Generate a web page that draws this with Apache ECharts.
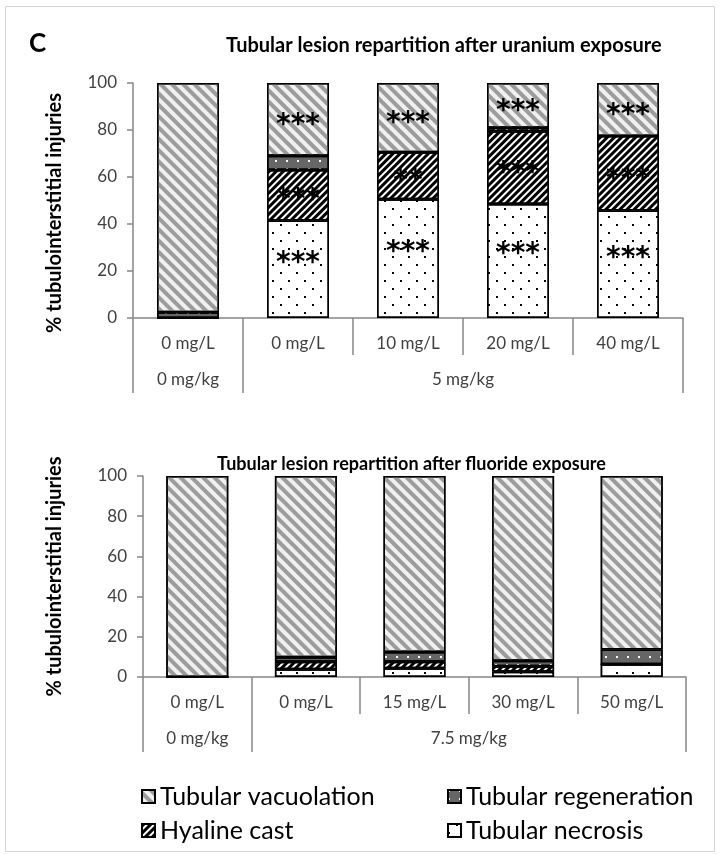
<!DOCTYPE html>
<html>
<head>
<meta charset="utf-8">
<title>Tubular lesion repartition</title>
<script src="https://cdn.jsdelivr.net/npm/echarts@6/dist/echarts.min.js"></script>
<style>
html,body{margin:0;padding:0;background:#fff;}
#main{width:721px;height:855px;}
</style>
</head>
<body>
<div id="main"></div>
<script>
/**
 * tubular lesion repartition, uranium / fluoride exposure
 */
// uranium panel (values in %)
var uraniumDoses = ['0 mg/L', '0 mg/L', '10 mg/L', '20 mg/L', '40 mg/L'];
var uraniumGroups = ['0 mg/kg', '5 mg/kg'];
var uraniumGroupSize = [1, 4];
var uNecrosis = [0, 41.5, 50.5, 48.5, 45.7];
var uHyaline = [0, 21.5, 20, 31, 31.7];
var uRegen = [2.5, 6, 0, 1.5, 0];
var uVacuol = [97.5, 31, 29.5, 19, 22.6];
var uSigNecrosis = ['', '***', '***', '***', '***'];
var uSigHyaline = ['', '***', '**', '***', '***'];
var uSigVacuol = ['', '***', '***', '***', '***'];

// fluoride panel (values in %)
var fluorideDoses = ['0 mg/L', '0 mg/L', '15 mg/L', '30 mg/L', '50 mg/L'];
var fluorideGroups = ['0 mg/kg', '7.5 mg/kg'];
var fluorideGroupSize = [1, 4];
var fNecrosis = [0, 3.8, 4.3, 2.6, 6.3];
var fHyaline = [0, 3.8, 3.3, 2.8, 0];
var fRegen = [0, 2.2, 4.9, 2.7, 7.4];
var fVacuol = [100, 90.2, 87.5, 91.9, 86.3];

var yTicks = [0, 20, 40, 60, 80, 100];

var FONT = 'Lato';
var AXIS_GREY = '#868686';

var styles = {
	vacuol: {
		color: '#f0f0f0', borderColor: '#000', borderWidth: 1.5,
		decal: {symbol: 'rect', symbolSize: 1, dashArrayX: [1, 0], dashArrayY: [4, 4], rotation: Math.PI / 4, color: '#9c9c9c'}
	},
	regen: {
		color: '#666666', borderColor: '#000', borderWidth: 1.5,
		decal: {symbol: 'rect', symbolSize: 1, dashArrayX: [2, 9], dashArrayY: [2, 6], rotation: 0, color: '#ffffff'}
	},
	hyaline: {
		color: '#ffffff', borderColor: '#000', borderWidth: 1.5,
		decal: {symbol: 'rect', symbolSize: 1, dashArrayX: [1, 0], dashArrayY: [2.5, 1.5], rotation: -Math.PI / 4, color: '#000000'}
	},
	necrosis: {
		color: '#ffffff', borderColor: '#000', borderWidth: 1.5,
		decal: {symbol: 'rect', symbolSize: 1, dashArrayX: [[2, 14], [0, 8, 2, 6]], dashArrayY: [2, 6], rotation: 0, color: '#000000'}
	}
};

function groupTicks(sizes){
	var out = [0], s = 0;
	for(var i=0;i<sizes.length;i++){ s += sizes[i]; out.push(s); }
	return out;
}
function groupCenters(sizes){
	var out = [], s = 0;
	for(var i=0;i<sizes.length;i++){ out.push(s + sizes[i] / 2); s += sizes[i]; }
	return out;
}

function sigLabel(arr, dy){
	return {
		show: true,
		position: 'inside',
		offset: [0, dy],
		formatter: function(p){ return arr[p.dataIndex]; },
		fontSize: 28,
		fontWeight: 'bold',
		fontFamily: 'DejaVu Sans',
		color: '#000'
	};
}

function catAxis(grid, data){
	return {
		gridIndex: grid, type: 'category', data: data, position: 'bottom',
		axisLine: {lineStyle: {color: AXIS_GREY, width: 1.5}},
		axisTick: {show: true, interval: 0, length: 37, lineStyle: {color: AXIS_GREY, width: 1.5}},
		axisLabel: {interval: 0, fontSize: 17, color: '#404040', margin: 17, fontFamily: FONT}
	};
}
function groupAxis(grid, groups, sizes){
	var centers = groupCenters(sizes);
	return {
		gridIndex: grid, type: 'value', position: 'bottom', offset: 37,
		min: 0, max: groupTicks(sizes)[sizes.length],
		axisLine: {show: false},
		splitLine: {show: false},
		axisTick: {show: true, length: 38, customValues: groupTicks(sizes), lineStyle: {color: AXIS_GREY, width: 1.5}},
		axisLabel: {
			customValues: centers, fontSize: 17, color: '#404040', margin: 16, fontFamily: FONT,
			formatter: function(v){
				for(var i=0;i<centers.length;i++){ if(Math.abs(centers[i]-v) < 1e-6) return groups[i]; }
				return '';
			}
		}
	};
}
function valAxis(grid, gap, pad){
	return {
		gridIndex: grid, type: 'value', min: yTicks[0], max: yTicks[yTicks.length-1], interval: yTicks[1]-yTicks[0],
		name: '% tubulointerstitial injuries', nameLocation: 'middle', nameGap: gap,
		nameTextStyle: {fontSize: 20, fontWeight: 'bold', color: '#000', fontFamily: FONT, padding: pad},
		axisLine: {show: true, lineStyle: {color: AXIS_GREY, width: 1.5}},
		axisTick: {show: true, length: 6, lineStyle: {color: AXIS_GREY, width: 1.5}},
		splitLine: {show: false},
		axisLabel: {fontSize: 17, color: '#404040', margin: 16, fontFamily: FONT}
	};
}

function bar(name, grid, stack, data, style, label){
	var s = {
		name: name, type: 'bar', xAxisIndex: grid * 2, yAxisIndex: grid, stack: stack,
		barWidth: 62, data: data, itemStyle: style,
		emphasis: {disabled: true}
	};
	if(label) s.label = label;
	return s;
}

var myChart = echarts.init(document.getElementById('main'));
var option = {
	animation: false,
	backgroundColor: '#fff',
	graphic: [{
		type: 'rect', silent: true,
		shape: {x: 5.5, y: 6.5, width: 709, height: 845},
		style: {fill: 'none', stroke: '#d4d4d4', lineWidth: 1}
	}],
	title: [
		{text: 'C', left: 24, top: 26, textStyle: {fontSize: 26, fontWeight: 'bold', color: '#000', fontFamily: FONT}},
		{text: 'Tubular lesion repartition after uranium exposure', left: 221, top: 31,
			textStyle: {fontSize: 20, fontWeight: 'bold', color: '#000', fontFamily: FONT}},
		{text: 'Tubular lesion repartition after fluoride exposure', left: 212, top: 450,
			textStyle: {fontSize: 18, fontWeight: 'bold', color: '#000', fontFamily: FONT}}
	],
	legend: [{
		data: ['Tubular vacuolation', 'Hyaline cast'],
		orient: 'vertical', left: 136, top: 779, icon: 'rect',
		itemWidth: 13, itemHeight: 13, itemGap: 9, selectedMode: false,
		textStyle: {fontSize: 25, color: '#000', fontFamily: FONT}
	}, {
		data: ['Tubular regeneration', 'Tubular necrosis'],
		orient: 'vertical', left: 442, top: 779, icon: 'rect',
		itemWidth: 13, itemHeight: 13, itemGap: 9, selectedMode: false,
		textStyle: {fontSize: 25, color: '#000', fontFamily: FONT}
	}],
	grid: [
		{left: 133, right: 38, top: 83, bottom: 855 - 318},
		{left: 143, right: 35, top: 476, bottom: 855 - 677}
	],
	xAxis: [
		catAxis(0, uraniumDoses),
		groupAxis(0, uraniumGroups, uraniumGroupSize),
		catAxis(1, fluorideDoses),
		groupAxis(1, fluorideGroups, fluorideGroupSize)
	],
	yAxis: [
		valAxis(0, 68, [0, 25, 0, 0]),
		valAxis(1, 78, [0, 0, 0, 0])
	],
	series: [
		bar('Tubular necrosis', 0, 'u', uNecrosis, styles.necrosis, sigLabel(uSigNecrosis, -6)),
		bar('Hyaline cast', 0, 'u', uHyaline, styles.hyaline, sigLabel(uSigHyaline, 6)),
		bar('Tubular regeneration', 0, 'u', uRegen, styles.regen),
		bar('Tubular vacuolation', 0, 'u', uVacuol, styles.vacuol, sigLabel(uSigVacuol, 6)),
		bar('Tubular necrosis', 1, 'f', fNecrosis, styles.necrosis),
		bar('Hyaline cast', 1, 'f', fHyaline, styles.hyaline),
		bar('Tubular regeneration', 1, 'f', fRegen, styles.regen),
		bar('Tubular vacuolation', 1, 'f', fVacuol, styles.vacuol)
	]
};
myChart.setOption(option);
</script>
</body>
</html>
